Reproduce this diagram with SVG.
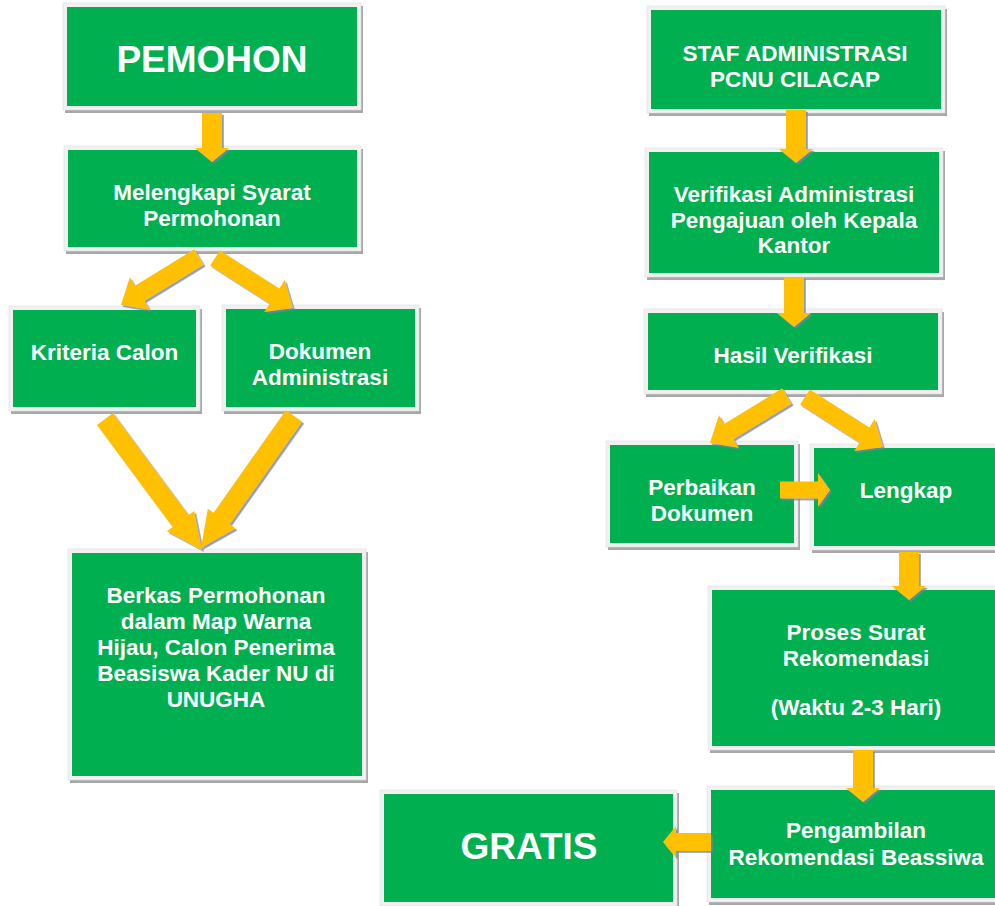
<svg xmlns="http://www.w3.org/2000/svg" width="995" height="906" viewBox="0 0 995 906">
<defs>
<style>
.sh{fill:#A8A8A8}
.fr{fill:#F1F1F1;stroke:#DCDCDC;stroke-width:0.6}
.bx{fill:#00B050}
.t{font-family:"Liberation Sans",Arial,sans-serif;font-weight:bold;font-size:22.5px;fill:#FFFFFF;text-anchor:middle}
.big{font-size:37px}
.ar{fill:#FFC000;filter:url(#ds)}
</style>
<filter id="ds" x="-20%" y="-20%" width="140%" height="140%">
<feDropShadow dx="1.8" dy="1.8" stdDeviation="0.7" flood-color="#6F84A6" flood-opacity="0.8"/>
</filter>
</defs>
<rect width="995" height="906" fill="#FFFFFF"/>

<g id="pemohon">
<rect class="sh" x="65" y="6" width="298" height="107"/>
<rect class="fr" x="63" y="3" width="298" height="107"/>
<rect class="bx" x="67" y="7" width="290" height="99"/>
<text class="t big" x="212" y="72">PEMOHON</text>
</g>

<g id="melengkapi">
<rect class="sh" x="66" y="149" width="297" height="105"/>
<rect class="fr" x="64" y="146" width="297" height="105"/>
<rect class="bx" x="68" y="150" width="289" height="97"/>
<text class="t" x="212" y="200">Melengkapi Syarat</text>
<text class="t" x="212" y="226">Permohonan</text>
</g>

<g id="kriteria">
<rect class="sh" x="11" y="309" width="191" height="105"/>
<rect class="fr" x="9" y="306" width="191" height="105"/>
<rect class="bx" x="13" y="310" width="183" height="97"/>
<text class="t" x="104.5" y="360">Kriteria Calon</text>
</g>

<g id="dokumen">
<rect class="sh" x="224" y="308" width="197" height="106"/>
<rect class="fr" x="222" y="305" width="197" height="106"/>
<rect class="bx" x="226" y="309" width="189" height="98"/>
<text class="t" x="320" y="359">Dokumen</text>
<text class="t" x="320" y="385">Administrasi</text>
</g>

<g id="berkas">
<rect class="sh" x="70" y="552" width="298" height="231"/>
<rect class="fr" x="68" y="549" width="298" height="231"/>
<rect class="bx" x="72" y="553" width="290" height="223"/>
<text class="t" x="216" y="603">Berkas Permohonan</text>
<text class="t" x="216" y="629">dalam Map Warna</text>
<text class="t" x="216" y="655">Hijau, Calon Penerima</text>
<text class="t" x="216" y="681">Beasiswa Kader NU di</text>
<text class="t" x="216" y="707">UNUGHA</text>
</g>

<g id="staf">
<rect class="sh" x="649" y="9" width="298" height="107"/>
<rect class="fr" x="647" y="6" width="298" height="107"/>
<rect class="bx" x="651" y="10" width="290" height="99"/>
<text class="t" x="795" y="61">STAF ADMINISTRASI</text>
<text class="t" x="795" y="87">PCNU CILACAP</text>
</g>

<g id="verifikasi">
<rect class="sh" x="647" y="151" width="298" height="129"/>
<rect class="fr" x="645" y="148" width="298" height="129"/>
<rect class="bx" x="649" y="152" width="290" height="121"/>
<text class="t" x="794" y="202">Verifikasi Administrasi</text>
<text class="t" x="794" y="228">Pengajuan oleh Kepala</text>
<text class="t" x="794" y="253">Kantor</text>
</g>

<g id="hasil">
<rect class="sh" x="646" y="312" width="298" height="85"/>
<rect class="fr" x="644" y="309" width="298" height="85"/>
<rect class="bx" x="648" y="313" width="290" height="77"/>
<text class="t" x="793" y="363">Hasil Verifikasi</text>
</g>

<g id="perbaikan">
<rect class="sh" x="608" y="444" width="192" height="106"/>
<rect class="fr" x="606" y="441" width="192" height="106"/>
<rect class="bx" x="610" y="445" width="184" height="98"/>
<text class="t" x="702" y="495">Perbaikan</text>
<text class="t" x="702" y="521">Dokumen</text>
</g>

<g id="lengkap">
<rect class="sh" x="812" y="447" width="208" height="106"/>
<rect class="fr" x="810" y="444" width="208" height="106"/>
<rect class="bx" x="814" y="448" width="200" height="98"/>
<text class="t" x="906" y="498">Lengkap</text>
</g>

<g id="proses">
<rect class="sh" x="710" y="589" width="308" height="164"/>
<rect class="fr" x="708" y="586" width="308" height="164"/>
<rect class="bx" x="712" y="590" width="300" height="156"/>
<text class="t" x="856" y="640">Proses Surat</text>
<text class="t" x="856" y="666">Rekomendasi</text>
<text class="t" x="856" y="715">(Waktu 2-3 Hari)</text>
</g>

<g id="pengambilan">
<rect class="sh" x="709" y="789" width="308" height="116"/>
<rect class="fr" x="707" y="786" width="308" height="116"/>
<rect class="bx" x="711" y="790" width="300" height="108"/>
<text class="t" x="856" y="838">Pengambilan</text>
<text class="t" x="856" y="865">Rekomendasi Beassiwa</text>
</g>

<g id="gratis">
<rect class="sh" x="382" y="793" width="297" height="116"/>
<rect class="fr" x="380" y="790" width="297" height="116"/>
<rect class="bx" x="384" y="794" width="289" height="108"/>
<text class="t big" x="529" y="859">GRATIS</text>
</g>

<g id="connectors">
<polygon class="ar" points="202,113 222,113 222,148 229,148 212,162 195,148 202,148"/>
<polygon class="ar" points="194.3,249.3 135.0,285.8 129.8,277.3 121,305 149.7,309.7 144.5,301.1 203.7,264.7"/>
<polygon class="ar" points="219.9,250.4 279.3,288.6 284.7,280.1 293,308 264.2,312.1 269.6,303.7 210.1,265.6"/>
<polygon class="ar" points="113.0,413.1 188.6,515.1 194.2,511.0 202,550 166.9,531.2 172.5,527.0 97.0,425.0"/>
<polygon class="ar" points="285.8,410.2 213.6,512.8 207.8,508.8 201,548 235.6,528.4 229.9,524.3 302.2,421.8"/>
<polygon class="ar" points="786,110 806,110 806,149 813,149 796,163 779,149 786,149"/>
<polygon class="ar" points="784,277 804,277 804,313 811,313 794,327 777,313 784,313"/>
<polygon class="ar" points="782.3,388.3 724.1,423.9 718.9,415.3 710,443 738.7,447.8 733.5,439.2 791.7,403.7"/>
<polygon class="ar" points="809.9,389.4 869.3,427.6 874.7,419.1 883,447 854.2,451.1 859.6,442.7 800.1,404.6"/>
<polygon class="ar" points="780,481.5 818,481.5 818,473 830,490 818,507 818,498.5 780,498.5"/>
<polygon class="ar" points="899,552 919,552 919,586 926,586 909,600 892,586 899,586"/>
<polygon class="ar" points="853,750 873,750 873,788 880,788 863,802 846,788 853,788"/>
<polygon class="ar" points="711,833 711,851 676,851 676,858 663,842 676,826 676,833"/>
</g>
</svg>
